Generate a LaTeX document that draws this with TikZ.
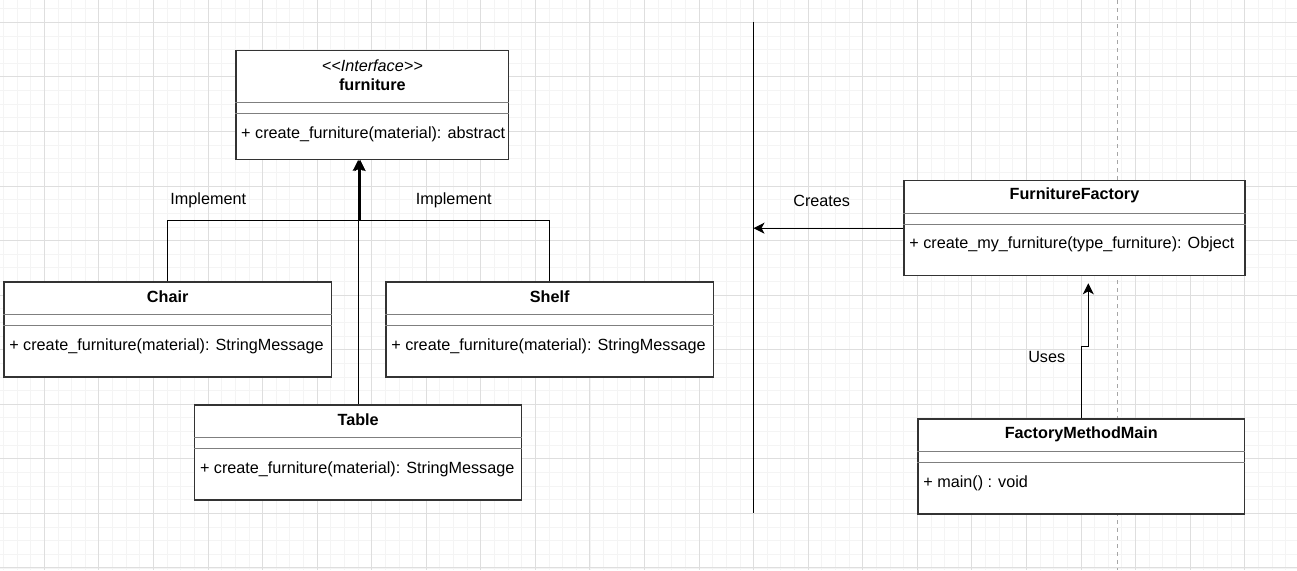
\documentclass[tikz,border=0pt]{standalone}
\usepackage{fontspec}
\setmainfont{Liberation Sans}
\usetikzlibrary{arrows.meta}
\definecolor{gridmajor}{HTML}{DEDEDE}
\definecolor{gridminor}{HTML}{F4F4F4}
\definecolor{boxline}{HTML}{333333}
\definecolor{sepline}{HTML}{7F7F7F}

\begin{document}
\begin{tikzpicture}[x=1pt,y=-1pt,every node/.style={font=\fontsize{16.2}{19}\selectfont}]
   \tikzstyle{class}=[draw=boxline, line width=1.3pt, fill=white, anchor=north west, inner sep=0pt, minimum height=95pt]
   \tikzstyle{sep}=[draw=sepline, line width=1pt]
   \tikzstyle{title}=[inner sep=0pt, font=\fontsize{16.2}{19}\selectfont\bfseries]
   \tikzstyle{meth}=[inner sep=0pt, anchor=west]
   \tikzstyle{conn}=[draw=black, line width=1.3pt, -{Stealth[length=11pt,width=11pt,inset=3pt]}]
   \useasboundingbox (0,0) rectangle (1297,570);
   \fill[white] (0,0) rectangle (1297,570);
   % grid
   \foreach \i in {0,...,94} \draw[gridminor, line width=0.8pt] ({3.38+13.64*\i},0) -- ++(0,570);
   \foreach \i in {0,...,41} \draw[gridminor, line width=0.8pt] (0,{8.66+13.64*\i}) -- ++(1297,0);
   \foreach \i in {0,...,23} \draw[gridmajor, line width=0.9pt] ({44.3+54.56*\i},0) -- ++(0,570);
   \foreach \i in {0,...,10} \draw[gridmajor, line width=0.9pt] (0,{22.3+54.56*\i}) -- ++(1297,0);
   \draw[black!35, line width=0.9pt, dash pattern=on 4pt off 4pt] (1117.7,0) -- (1117.7,570);

   % interface
   \node[class, minimum width=272.7pt, minimum height=108.7pt] (furniture) at (235.3,50) {};
   \draw[sep] ([yshift=-52.3pt]furniture.north west) -- ([yshift=-52.3pt]furniture.north east);
   \draw[sep] ([yshift=-63pt]furniture.north west) -- ([yshift=-63pt]furniture.north east);
   \node[inner sep=0pt] (stereo) at ([yshift=-15.7pt]furniture.north) {\textit{<\kern0pt<Interface>\kern0pt>}};
   \node[title] (furniture-title) at ([yshift=-34.3pt]furniture.north) {furniture};
   \node[meth] (furniture-meth) at ([xshift=5.7pt,yshift=-84.5pt]furniture.north west) {+ create\_furniture(material): abstract};

   % classes
   \foreach \name/\x/\y/\w/\title/\meth in {
       chair/3.3/281.3/327.4/Chair/{+ create\_furniture(material): StringMessage},
       shelf/385.3/281.3/327.4/Shelf/{+ create\_furniture(material): StringMessage},
       table/194/404.3/327/Table/{+ create\_furniture(material): StringMessage},
       factory/903.3/180/341/FurnitureFactory/{+ create\_my\_furniture(type\_furniture): Object},
       mainclass/917.3/418.3/326.7/FactoryMethodMain/{+ main() : void}} {
       \node[class, minimum width=\w pt] (\name) at (\x,\y) {};
       \draw[sep] ([yshift=-33.5pt]\name.north west) -- ([yshift=-33.5pt]\name.north east);
       \draw[sep] ([yshift=-44pt]\name.north west) -- ([yshift=-44pt]\name.north east);
       \node[title] (\name-title) at ([yshift=-15.6pt]\name.north) {\title};
       \node[meth] (\name-meth) at ([xshift=5.8pt,yshift=-64.8pt]\name.north west) {\meth};
   }

   % implementation
   \coordinate (join) at (360,220.5);
   \draw[conn] (chair.north) |- (join) -- (join |- furniture.south);
   \draw[conn] (shelf.north) |- (join) -- (join |- furniture.south);
   \draw[conn] (table.north) -- (table.north |- furniture.south);
   \node (impl1) at (208.3,200.7) {Implement};
   \node (impl2) at (453.7,200.7) {Implement};

   % divider and factory side
   \coordinate (divtop) at (753.5,22.3);
   \coordinate (divbot) at (753.5,513.4);
   \draw[line width=1.8pt] (divtop) -- (divbot);
   \draw[conn] (factory.west) -- (factory.west -| divtop);
   \node (creates) at (821.7,200.7) {Creates};
   \coordinate (usebend) at (1088.3,346.7);
   \coordinate (usetip) at (1088.3,283.3);
   \draw[conn] (mainclass.north) |- (usebend) -- (usetip);
   \node (uses) at (1046.7,357.3) {Uses};
\end{tikzpicture}
\end{document}
